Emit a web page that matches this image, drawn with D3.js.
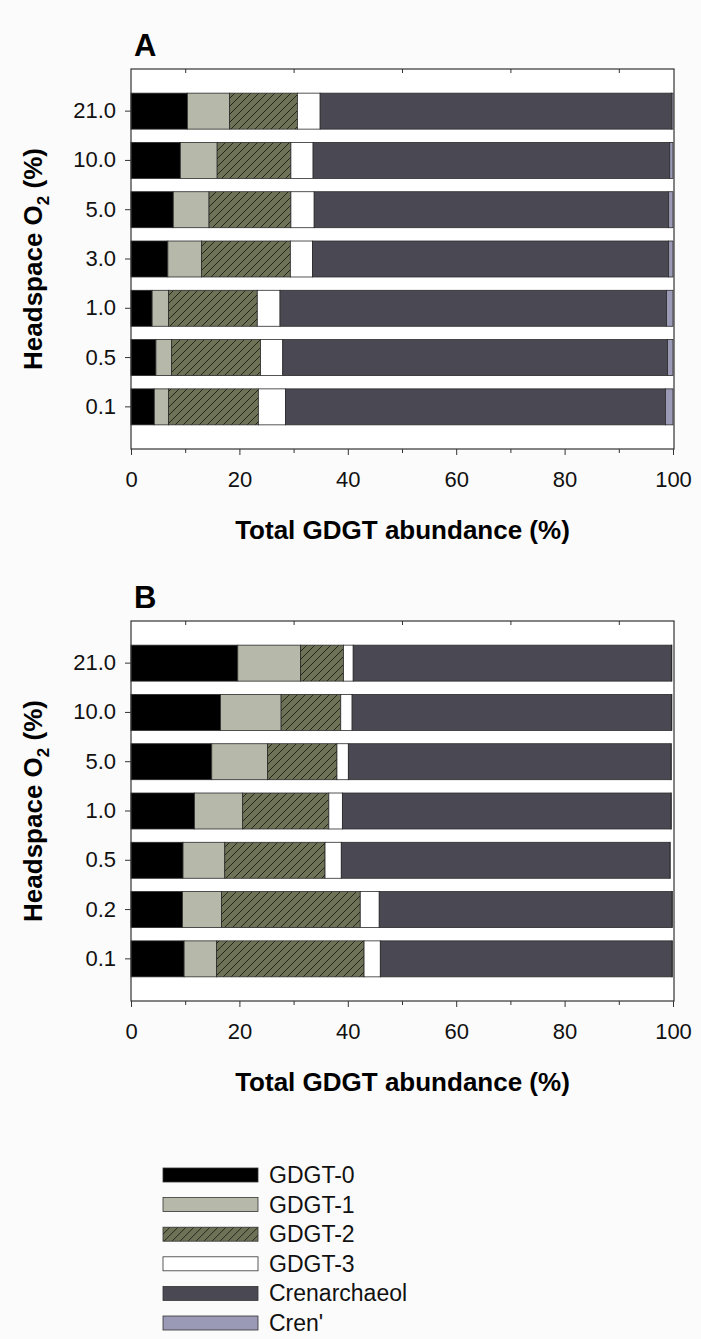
<!DOCTYPE html>
<html>
<head>
<meta charset="utf-8">
<script src="https://cdn.jsdelivr.net/npm/d3@7"></script>
<style>
  html, body { margin: 0; padding: 0; background: #fbfbfb; }
  svg { display: block; font-family: "Liberation Sans", Arial, sans-serif; }
  .tick text { font-size: 22px; fill: #111; }
  .axis-label { font-size: 26px; font-weight: bold; fill: #000; }
  .panel-letter { font-size: 31px; font-weight: bold; fill: #000; }
  .legend text { font-size: 23px; fill: #111; }
</style>
</head>
<body>
<svg width="701" height="1339"></svg>
<script>
(function () {
  'use strict';

  const seriesNames = ['GDGT-0', 'GDGT-1', 'GDGT-2', 'GDGT-3', 'Crenarchaeol', "Cren'"];
  const xAxisLabelText = 'Total GDGT abundance (%)';
  const xTicks = [0, 20, 40, 60, 80, 100];

  // panel A
  const oxygenA = ['21.0', '10.0', '5.0', '3.0', '1.0', '0.5', '0.1'];
  const gdgt0A = [10.4, 9.1, 7.8, 6.8, 3.9, 4.6, 4.3];
  const gdgt1A = [7.8, 6.8, 6.6, 6.2, 3.0, 2.9, 2.6];
  const gdgt2A = [12.5, 13.6, 15.1, 16.4, 16.4, 16.4, 16.6];
  const gdgt3A = [4.2, 4.1, 4.3, 4.1, 4.2, 4.1, 5.0];
  const crenA = [64.8, 65.8, 65.4, 65.7, 71.3, 71.0, 70.1];
  const crenPrimeA = [0.3, 0.6, 0.8, 0.8, 1.2, 1.0, 1.4];

  // panel B
  const oxygenB = ['21.0', '10.0', '5.0', '1.0', '0.5', '0.2', '0.1'];
  const gdgt0B = [19.7, 16.5, 14.9, 11.7, 9.6, 9.5, 9.8];
  const gdgt1B = [11.6, 11.2, 10.3, 8.9, 7.7, 7.2, 6.0];
  const gdgt2B = [7.9, 11.0, 12.8, 15.9, 18.5, 25.6, 27.2];
  const gdgt3B = [1.8, 2.1, 2.1, 2.5, 3.0, 3.5, 3.0];
  const crenB = [58.7, 58.9, 59.5, 60.6, 60.6, 54.0, 53.8];
  const crenPrimeB = [0.1, 0.1, 0.1, 0.1, 0.1, 0.1, 0.1];

  const fills = ['#000000', '#b6b8aa', 'url(#hatch)', '#ffffff', '#4a4953', '#9a9ab6'];

  const svg = d3.select('svg');
  const margin = { left: 131, right: 27 };
  const width = +svg.attr('width');
  const plotHeight = 380;

  const defs = svg.append('defs');
  const pat = defs.append('pattern')
    .attr('id', 'hatch')
    .attr('patternUnits', 'userSpaceOnUse')
    .attr('width', 8)
    .attr('height', 8);
  pat.append('rect').attr('width', 8).attr('height', 8).attr('fill', '#6e7358');
  pat.append('path')
    .attr('d', 'M-2,2 L2,-2 M0,8 L8,0 M6,10 L10,6')
    .attr('stroke', '#1a1c12')
    .attr('stroke-width', 0.9);

  const xScale = d3.scaleLinear()
    .domain([0, 100])
    .range([margin.left, width - margin.right - 1]);

  const render = (top, letter, cats, cols) => {
    const rows = cats.map((c, i) => {
      const r = { cat: c };
      seriesNames.forEach((s, j) => { r[s] = cols[j][i]; });
      return r;
    });
    const stacked = d3.stack().keys(seriesNames)(rows);

    const yScale = d3.scaleBand()
      .domain(cats)
      .range([top, top + plotHeight])
      .paddingInner(0.27)
      .paddingOuter(0.49);

    const g = svg.append('g');

    g.append('rect')
      .attr('x', margin.left)
      .attr('y', top)
      .attr('width', width - margin.right - margin.left)
      .attr('height', plotHeight)
      .attr('fill', '#ffffff');

    g.selectAll('g.series').data(stacked)
      .enter().append('g')
        .attr('class', 'series')
        .attr('fill', (d, i) => fills[i])
      .selectAll('rect').data(d => d)
      .enter().append('rect')
        .attr('x', d => xScale(d[0]))
        .attr('y', d => yScale(d.data.cat))
        .attr('width', d => xScale(d[1]) - xScale(d[0]))
        .attr('height', yScale.bandwidth())
        .attr('stroke', '#2a2a2a')
        .attr('stroke-width', 0.8);

    // frame
    g.append('rect')
      .attr('x', margin.left)
      .attr('y', top)
      .attr('width', width - margin.right - margin.left)
      .attr('height', plotHeight)
      .attr('fill', 'none')
      .attr('stroke', '#333')
      .attr('stroke-width', 1.2);

    const yAxisG = g.append('g')
      .attr('transform', `translate(${margin.left},0)`)
      .call(d3.axisLeft(yScale).tickSize(6).tickPadding(9));
    yAxisG.select('.domain').remove();

    const xAxisG = g.append('g')
      .attr('transform', `translate(0,${top + plotHeight})`)
      .call(d3.axisBottom(xScale).tickValues(xTicks).tickSize(6).tickPadding(16));
    xAxisG.select('.domain').remove();
    xAxisG.selectAll('.tick line').attr('y2', 6);

    g.append('g')
      .attr('transform', `translate(0,${top + plotHeight})`)
      .call(d3.axisBottom(xScale).tickValues([10, 30, 50, 70, 90]).tickSize(4).tickFormat(''))
      .select('.domain').remove();

    g.append('g')
      .attr('transform', `translate(0,${top})`)
      .call(d3.axisBottom(xScale).tickValues([10, 30, 50, 70, 90]).tickSize(4).tickFormat(''))
      .select('.domain').remove();

    g.selectAll('.tick line').attr('stroke', '#333');

    g.append('text')
      .attr('class', 'axis-label')
      .attr('x', (margin.left + width - margin.right) / 2)
      .attr('y', top + plotHeight + 90)
      .attr('text-anchor', 'middle')
      .text(xAxisLabelText);

    const yl = g.append('text')
      .attr('class', 'axis-label')
      .attr('transform', `translate(42,${top + plotHeight / 2}) rotate(-90)`)
      .attr('text-anchor', 'middle');
    yl.append('tspan').text('Headspace O');
    yl.append('tspan').attr('dy', 7).style('font-size', '17px').text('2');
    yl.append('tspan').attr('dy', -7).text(' (%)');

    g.append('text')
      .attr('class', 'panel-letter')
      .attr('x', 134)
      .attr('y', top - 13)
      .text(letter);
  };

  render(69, 'A', oxygenA, [gdgt0A, gdgt1A, gdgt2A, gdgt3A, crenA, crenPrimeA]);
  render(621, 'B', oxygenB, [gdgt0B, gdgt1B, gdgt2B, gdgt3B, crenB, crenPrimeB]);

  // legend
  const legend = svg.append('g').attr('class', 'legend');
  const legendY = d3.scalePoint().domain(seriesNames).range([1175, 1323]);
  const items = legend.selectAll('g').data(seriesNames)
    .enter().append('g')
      .attr('transform', d => `translate(163,${legendY(d)})`);
  items.append('rect')
    .attr('x', 0)
    .attr('y', -7)
    .attr('width', 95)
    .attr('height', 14)
    .attr('fill', (d, i) => fills[i])
    .attr('stroke', '#333')
    .attr('stroke-width', 0.8);
  items.append('text')
    .attr('x', 106)
    .attr('y', 8)
    .text(d => d);
})();
</script>
</body>
</html>
